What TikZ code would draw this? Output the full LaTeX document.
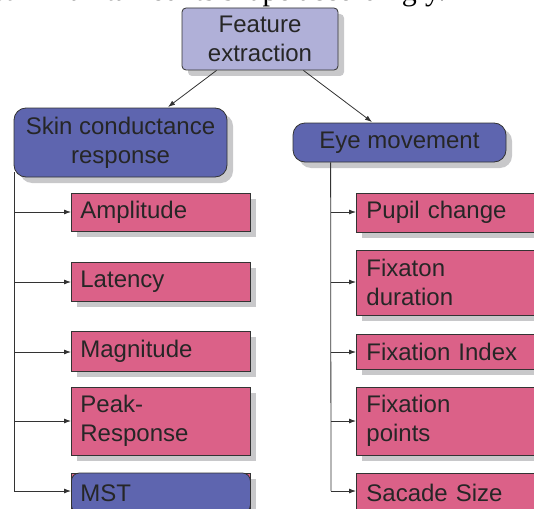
\documentclass[tikz,border=0pt]{standalone}
\usepackage{fontspec}
\setmainfont{Liberation Sans}
\newfontfamily\serifcut{Liberation Serif}
\usetikzlibrary{shadows,arrows.meta}
\definecolor{toplav}{HTML}{B0B0D8}
\definecolor{midblue}{HTML}{5E65AF}
\definecolor{leafpink}{HTML}{DB6188}
\definecolor{shadowgray}{HTML}{C8C8CA}
\definecolor{edgegray}{HTML}{333333}
\begin{document}
\begin{tikzpicture}[x=1pt,y=-1pt,
  every node/.style={font=\fontsize{24}{29}\selectfont, text=black!85},
  boxbase/.style={draw=edgegray, line width=0.8pt, inner sep=0pt,
     drop shadow={shadow xshift=6pt, shadow yshift=-6pt, fill=shadowgray, opacity=1}},
  topbox/.style={boxbase, fill=toplav, rounded corners=4pt, align=center},
  midbox/.style={boxbase, fill=midblue, rounded corners=12pt, align=center},
  leafbox/.style={boxbase, fill=leafpink, align=left},
  conn/.style={draw=edgegray, line width=0.8pt},
  arr/.style={conn, -{Latex[length=7pt,width=5pt]}}
]
\useasboundingbox (0,0) rectangle (534,508);
\node[anchor=base west, font=\serifcut\fontsize{30}{33}\selectfont, text=black] (cut) at (-10,1) {still maintained its shape accordingly.};

\node[topbox, minimum width=156pt, minimum height=62pt] (fe) at (260,39) {Feature\\extraction};
\node[midbox, minimum width=213pt, minimum height=69pt] (scr) at (120.5,142.5) {Skin conductance\\response};
\node[midbox, minimum width=213pt, minimum height=39pt] (eye) at (399.5,142.5) {Eye movement};

\draw[arr] (fe.south west) ++(35,0) coordinate (fa) -- (168,107) coordinate (fb);
\draw[arr] (fe.south east) ++(-35,0) coordinate (fc) -- (372,122) coordinate (fd);

% left leaves
\tikzset{lleaf/.style={leafbox, minimum width=179pt, text width=161pt, anchor=west}}
\node[lleaf, minimum height=38pt] (amp) at (71,212) {Amplitude};
\node[lleaf, minimum height=39pt] (lat) at (71,281.5) {Latency};
\node[lleaf, minimum height=40pt] (mag) at (71,351) {Magnitude};
\node[lleaf, minimum height=68pt] (peak) at (71,421) {Peak-\\Response};
\node[lleaf, minimum height=40pt] (mstbg) at (71,493) {};
\node[draw=edgegray, line width=0.8pt, inner sep=0pt, fill=midblue, rounded corners=8pt, minimum width=179pt, text width=161pt, minimum height=40pt, align=left, anchor=west] (mst) at (71,493) {MST};

\coordinate (lt) at (14,172);
\coordinate (lb) at (14,491);
\draw[conn] (lt) -- (lb);
\foreach \n/\yy in {amp/212,lat/282,mag/352,peak/421,mst/491}{
  \draw[arr] (14,\yy) -- (\n.west |- 0,\yy);
}

% right leaves
\tikzset{rleaf/.style={leafbox, minimum width=190pt, text width=170pt, anchor=west}}
\node[rleaf, minimum height=39pt] (pup) at (356,212.5) {Pupil change};
\node[rleaf, minimum height=65pt] (fdur) at (356,282.5) {Fixaton\\duration};
\node[rleaf, minimum height=35pt] (fidx) at (356,351.5) {Fixation Index};
\node[rleaf, minimum height=68pt] (fpts) at (356,421) {Fixation\\points};
\node[rleaf, minimum height=40pt] (sac) at (356,493) {Sacade Size};

\draw[conn] (eye.south west) ++(38,0) coordinate (rt) -- (331,491) coordinate (rb);
\foreach \n/\yy in {pup/212,fdur/282,fidx/352,fpts/421,sac/491}{
  \draw[arr] (331,\yy) -- (\n.west |- 0,\yy);
}
\end{tikzpicture}
\end{document}
